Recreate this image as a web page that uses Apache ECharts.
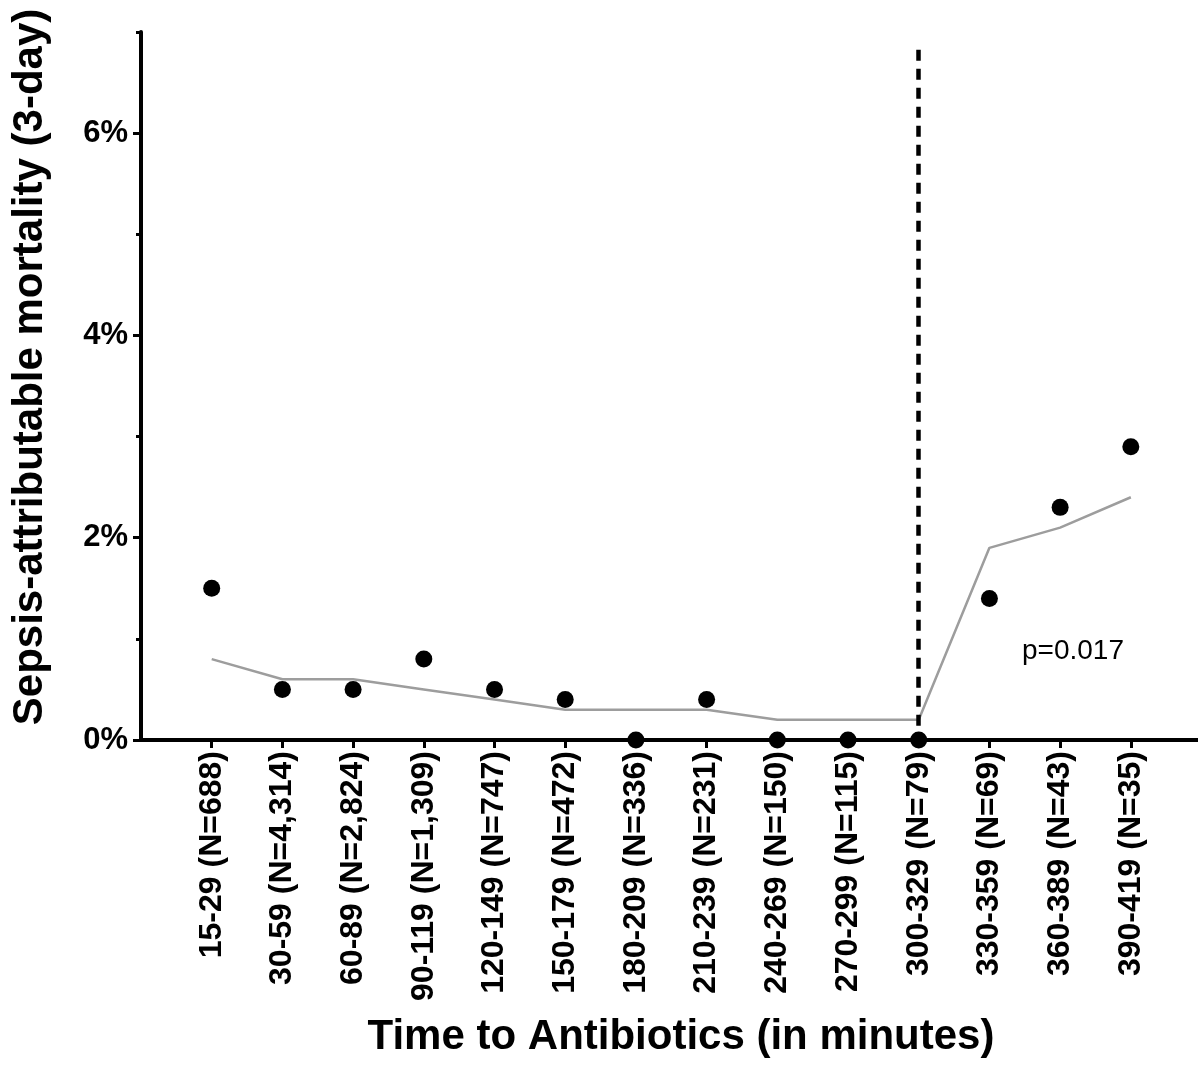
<!DOCTYPE html>
<html>
<head>
<meta charset="utf-8">
<style>
html,body{margin:0;padding:0;background:#fff;}
#chart{width:1198px;height:1065px;}
</style>
<script src="https://cdn.jsdelivr.net/npm/echarts@6/dist/echarts.min.js"></script>
</head>
<body>
<div id="chart"></div>
<script>
const categories = ['15-29 (N=688)', '30-59 (N=4,314)', '60-89 (N=2,824)', '90-119 (N=1,309)', '120-149 (N=747)', '150-179 (N=472)', '180-209 (N=336)', '210-239 (N=231)', '240-269 (N=150)', '270-299 (N=115)', '300-329 (N=79)', '330-359 (N=69)', '360-389 (N=43)', '390-419 (N=35)'];
const observed = [1.5, 0.5, 0.5, 0.8, 0.5, 0.4, 0, 0.4, 0, 0, 0, 1.4, 2.3, 2.9];
const fitted = [0.8, 0.6, 0.6, 0.5, 0.4, 0.3, 0.3, 0.3, 0.2, 0.2, 0.2, 1.9, 2.1, 2.4];
const yMajorTicks = [0, 2, 4, 6];
const yMinorTicks = [1, 3, 5, 7];
const cutoffCategory = '300-329 (N=79)';
const cutoffTop = 6.825;
const pText = 'p=0.017';
const xTitle = 'Time to Antibiotics (in minutes)';
const yTitle = 'Sepsis-attributable mortality (3-day)';

const FF = "'Liberation Sans', Arial, sans-serif";
const xPos = categories.map((c, i) => i + 1);
const cutoffX = categories.indexOf(cutoffCategory) + 1;

const chart = echarts.init(document.getElementById('chart'));
chart.setOption({
  animation: false,
  backgroundColor: '#fff',
  grid: { left: 141, top: 32, right: 0, height: 708, containLabel: false },
  xAxis: {
    type: 'value', min: 0, max: 14.95, interval: 1,
    axisLine: { onZero: false, lineStyle: { color: '#000', width: 4 } },
    axisTick: { customValues: xPos, length: 8, lineStyle: { color: '#000', width: 3 } },
    axisLabel: {
      customValues: xPos, rotate: 90, margin: 11,
      formatter: v => categories[v - 1] || '',
      fontSize: 32, fontWeight: 'bold', color: '#000', fontFamily: FF
    },
    splitLine: { show: false }
  },
  yAxis: [
    {
      type: 'value', min: 0, max: 7, interval: 1,
      axisLine: { show: true, lineStyle: { color: '#000', width: 4 } },
      axisTick: { show: true, customValues: yMajorTicks, length: 8, lineStyle: { color: '#000', width: 3 } },
      axisLabel: {
        customValues: yMajorTicks, margin: 13,
        formatter: v => (yMajorTicks.indexOf(v) >= 0 ? v + '%' : ''),
        fontSize: 31, fontWeight: 'bold', color: '#000', fontFamily: FF
      },
      splitLine: { show: false }
    },
    {
      type: 'value', min: 0, max: 7, interval: 1, position: 'left',
      axisLine: { show: false },
      axisTick: { show: true, customValues: yMinorTicks, length: 5, lineStyle: { color: '#000', width: 3 } },
      axisLabel: { show: false },
      splitLine: { show: false }
    }
  ],
  series: [
    {
      type: 'line',
      data: fitted.map((v, i) => [xPos[i], v]),
      symbol: 'none',
      lineStyle: { color: '#9d9d9d', width: 2.5 },
      z: 2,
      markLine: {
        silent: true, symbol: 'none', label: { show: false },
        lineStyle: { color: '#000', width: 4.5, type: [11, 8], opacity: 1 },
        data: [[{ coord: [cutoffX, cutoffTop] }, { coord: [cutoffX, 0] }]]
      }
    },
    {
      type: 'scatter',
      data: observed.map((v, i) => [xPos[i], v]),
      symbol: 'circle', symbolSize: 17,
      itemStyle: { color: '#000', opacity: 1 },
      z: 5
    }
  ],
  graphic: [
    {
      type: 'text', x: 30, y: 367, rotation: Math.PI / 2,
      style: { text: yTitle, font: "bold 42px 'Liberation Sans', Arial, sans-serif", fill: '#000',
        align: 'center', verticalAlign: 'middle', textAlign: 'center', textVerticalAlign: 'middle' }
    },
    {
      type: 'text', x: 681, y: 1037,
      style: { text: xTitle, font: "bold 42px 'Liberation Sans', Arial, sans-serif", fill: '#000',
        align: 'center', verticalAlign: 'middle', textAlign: 'center', textVerticalAlign: 'middle' }
    },
    {
      type: 'text', x: 1073, y: 651,
      style: { text: pText, font: "28px 'Liberation Sans', Arial, sans-serif", fill: '#000',
        align: 'center', verticalAlign: 'middle', textAlign: 'center', textVerticalAlign: 'middle' }
    }
  ]
});
</script>
</body>
</html>
